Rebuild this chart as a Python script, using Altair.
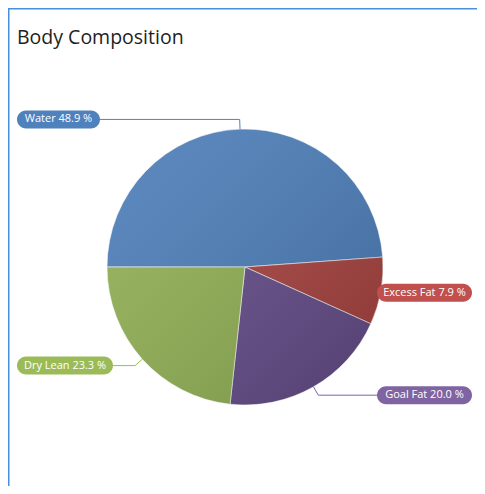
import math
import altair as alt
import pandas as pd

# ---- data ----
categories = ["Water", "Excess Fat", "Goal Fat", "Dry Lean"]
values = [48.9, 7.9, 20.0, 23.3]
pie_colors = ["#4a7cb8", "#a7413e", "#634b88", "#90b052"]
label_colors = ["#4f81bd", "#c0504d", "#8064a2", "#9bbb59"]
title_text = "Body Composition"

# ---- layout (view pixels) ----
W, H = 469, 426
PAD_TOP = 52
CX, CY, R = 237, 207, 138
ELBOW = 1.07
LEFT, RIGHT = 9, 464
BOX_H = 18
box_w = {"Water": 83, "Excess Fat": 95, "Goal Fat": 95, "Dry Lean": 96}
FONT = "Open Sans"

total = sum(values)
start = 1.5 * math.pi

pie_df = pd.DataFrame({"category": categories, "value": values, "order": range(len(values))})

line_rows, box_rows = [], []
cum = 0.0
for c, v in zip(categories, values):
    mid = start + 2 * math.pi * (cum + v / 2) / total
    cum += v
    ax, ay = CX + R * math.sin(mid), CY - R * math.cos(mid)
    ex, ey = CX + ELBOW * R * math.sin(mid), CY - ELBOW * R * math.cos(mid)
    w = box_w[c]
    if math.sin(mid) < 0:
        x0, x1 = LEFT, LEFT + w
        endx = x1
    else:
        x0, x1 = RIGHT - w, RIGHT
        endx = x0
    line_rows += [
        {"category": c, "k": 0, "x": ax, "y": ay},
        {"category": c, "k": 1, "x": ex, "y": ey},
        {"category": c, "k": 2, "x": endx, "y": ey},
    ]
    box_rows.append({
        "category": c, "x0": x0, "x1": x1, "y0": ey - BOX_H / 2, "y1": ey + BOX_H / 2,
        "xc": (x0 + x1) / 2, "yc": ey, "label": f"{c} {v:.1f} %",
    })

line_df = pd.DataFrame(line_rows)
box_df = pd.DataFrame(box_rows)

xs = alt.Scale(domain=[0, W], nice=False, zero=False)
ys = alt.Scale(domain=[0, H], nice=False, zero=False, reverse=True)
lab_color = alt.Color("category:N", scale=alt.Scale(domain=categories, range=label_colors), legend=None)

pie = alt.Chart(pie_df).mark_arc(radius=R, stroke="white", strokeWidth=0.6).encode(
    theta=alt.Theta("value:Q", stack=True,
                    scale=alt.Scale(range=[start, start + 2 * math.pi])),
    color=alt.Color("category:N", scale=alt.Scale(domain=categories, range=pie_colors), legend=None),
    order=alt.Order("order:Q"),
    x=alt.value(CX),
    y=alt.value(CY),
)

shade = alt.Chart(pd.DataFrame({"a": [1]})).mark_arc(
    radius=R, theta=0, theta2=2 * math.pi,
    fill=alt.Gradient(
        gradient="linear",
        stops=[alt.GradientStop(color="rgba(255,255,255,0.10)", offset=0),
               alt.GradientStop(color="rgba(0,0,0,0.18)", offset=1)],
        x1=0, y1=0, x2=1, y2=1,
    ),
).encode(x=alt.value(CX), y=alt.value(CY))

lines = alt.Chart(line_df).mark_line(strokeWidth=1).encode(
    x=alt.X("x:Q", scale=xs, axis=None),
    y=alt.Y("y:Q", scale=ys, axis=None),
    detail="category:N",
    order="k:Q",
    color=lab_color,
)

boxes = alt.Chart(box_df).mark_rect(cornerRadius=9).encode(
    x=alt.X("x0:Q", scale=xs, axis=None),
    x2="x1:Q",
    y=alt.Y("y0:Q", scale=ys, axis=None),
    y2="y1:Q",
    color=lab_color,
)

texts = alt.Chart(box_df).mark_text(color="white", font=FONT, fontSize=11, align="center",
                                    baseline="middle").encode(
    x=alt.X("xc:Q", scale=xs, axis=None),
    y=alt.Y("yc:Q", scale=ys, axis=None),
    text="label:N",
)

title = alt.Chart(pd.DataFrame({"t": [title_text]})).mark_text(
    font=FONT, fontSize=19.5, color="#1e1e1e", align="left", baseline="alphabetic"
).encode(x=alt.value(9), y=alt.value(-16), text="t:N")

border = alt.Chart(pd.DataFrame({"a": [1]})).mark_rule(color="#4a90d9", strokeWidth=1.5).encode(
    x=alt.value(0), x2=alt.value(W), y=alt.value(-PAD_TOP + 0.75)
)
border_left = alt.Chart(pd.DataFrame({"a": [1]})).mark_rule(color="#4a90d9", strokeWidth=1.5).encode(
    x=alt.value(0.75), y=alt.value(-PAD_TOP), y2=alt.value(H)
)

chart = alt.layer(pie, shade, lines, boxes, texts, title, border, border_left).resolve_scale(
    color="independent"
).properties(
    width=W, height=H,
    padding={"left": 0, "top": PAD_TOP, "right": 0, "bottom": 0},
    autosize=alt.AutoSizeParams(type="none"),
).configure_view(stroke=None)

chart.save("out.html", embed_options={"renderer": "svg", "actions": False})
